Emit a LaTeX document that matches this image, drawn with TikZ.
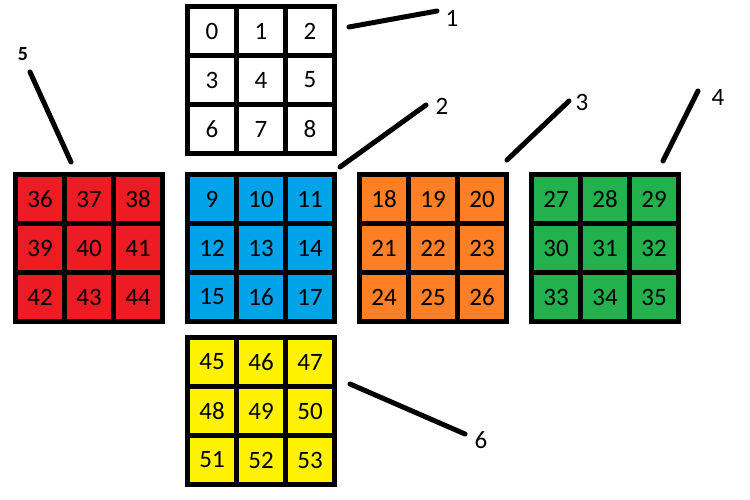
\documentclass[tikz,border=0pt]{standalone}
\usepackage{fontspec}
\setmainfont{Carlito}
\definecolor{paintred}{HTML}{ED1C24}
\definecolor{paintblue}{HTML}{00A2E8}
\definecolor{paintorange}{HTML}{FF7F27}
\definecolor{paintgreen}{HTML}{22B14C}
\definecolor{paintyellow}{HTML}{FFF200}
\newcommand{\cellfont}{\fontsize{25}{25}\selectfont}
\tikzset{face/.style = {fill = black, minimum size = 152, inner sep = 0}}
\tikzset{cell/.style = {fill = #1, minimum size = 44, inner sep = 0, font = \cellfont}}
\tikzset{tag/.style = {inner sep = 0, font = \cellfont}}
\tikzset{leader/.style = {line width = 5, line cap = round}}
\newcommand{\cubeface}[5]{%
  \node [face] (#1) at (#2+76, #3+76) {};
  \foreach \r in {0, 1, 2} {
    \foreach \c in {0, 1, 2} {
      \pgfmathtruncatemacro{\num}{#5+3*\r+\c}
      \node [cell=#4] (#1-\r-\c) at (#2+27+49*\c, #3+27+49*\r) {\num};
    }
  }
}

\begin{document}
\begin{tikzpicture}[x=1pt, y=-1pt]
      \useasboundingbox (0, 0) rectangle (750, 500);

      \cubeface{up}{185}{4}{white}{0}
      \cubeface{left}{13}{172}{paintred}{36}
      \cubeface{front}{185}{172}{paintblue}{9}
      \cubeface{right}{357}{172}{paintorange}{18}
      \cubeface{back}{529}{172}{paintgreen}{27}
      \cubeface{down}{185}{335}{paintyellow}{45}

      \node [tag] (tag1) at (452, 18) {1};
      \node [tag] (tag2) at (442, 106) {2};
      \node [tag] (tag3) at (582, 102) {3};
      \node [tag] (tag4) at (718, 97) {4};
      \node [tag, font = \fontsize{20}{20}\selectfont\bfseries] (tag5) at (23, 54) {5};
      \node [tag] (tag6) at (481, 440) {6};

      \coordinate (lead1) at (349, 27);
      \coordinate (tip1) at (437, 11);
      \coordinate (lead2) at (340, 167);
      \coordinate (tip2) at (426, 105);
      \coordinate (lead3) at (507, 160);
      \coordinate (tip3) at (569, 101);
      \coordinate (lead4) at (663, 161);
      \coordinate (tip4) at (698, 91);
      \coordinate (lead5) at (71, 162);
      \coordinate (tip5) at (30, 72);
      \coordinate (lead6) at (350, 384);
      \coordinate (tip6) at (465, 434);

      \foreach \i in {1, ..., 6}
        \draw [leader] (lead\i) -- (tip\i);
\end{tikzpicture}
\end{document}
